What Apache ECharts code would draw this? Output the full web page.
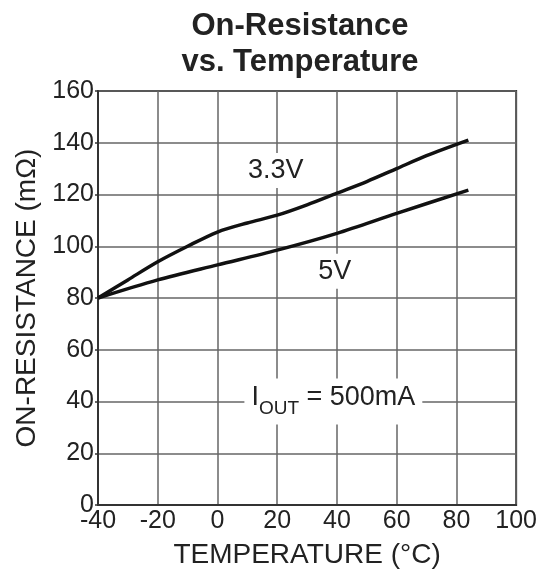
<!DOCTYPE html>
<html>
<head>
<meta charset="utf-8">
<script src="https://cdn.jsdelivr.net/npm/echarts@6/dist/echarts.min.js"></script>
<style>
  html, body { margin: 0; padding: 0; background: #fff; }
  #chart { width: 540px; height: 577px; }
</style>
</head>
<body>
<div id="chart"></div>
<script>
// temperature (°C) and on-resistance (mΩ)
var temp33 = [-40, -30, -20, -10, 0, 10, 20, 30, 40, 50, 60, 70, 84];
var ron33 = [80, 87, 94, 100, 105.5, 109, 112, 116, 120.5, 125, 130, 135, 141];
var temp5 = [-40, -20, 0, 20, 40, 60, 84];
var ron5 = [80, 87, 92.8, 98.5, 105, 112.7, 121.7];

var xTicks = [-40, -20, 0, 20, 40, 60, 80, 100];
var yTicks = [0, 20, 40, 60, 80, 100, 120, 140, 160];

var font = '"Liberation Sans", Arial, sans-serif';
var ink = '#222';

function pairs(xs, ys) {
    return xs.map(function (x, i) { return [x, ys[i]]; });
}

var myChart = echarts.init(document.getElementById('chart'));
var option = {
    animation: false,
    title: {
        text: 'On-Resistance\nvs. Temperature',
        left: 295,
        top: 3,
        textAlign: 'center',
        textStyle: {
            fontFamily: font,
            fontSize: 31,
            fontWeight: 'bold',
            color: ink,
            lineHeight: 36,
        },
    },
    grid: {
        show: true,
        left: 98,
        right: 23,
        top: 91,
        bottom: 72,
        borderColor: '#333',
        borderWidth: 2,
        backgroundColor: 'transparent',
    },
    xAxis: {
        type: 'value',
        min: xTicks[0],
        max: xTicks[xTicks.length - 1],
        interval: 20,
        name: 'TEMPERATURE (°C)',
        nameLocation: 'middle',
        nameGap: 36,
        nameTextStyle: { fontFamily: font, fontSize: 28, color: ink },
        axisLine: { show: true, onZero: false, lineStyle: { color: '#333', width: 2 } },
        axisTick: { show: false },
        splitLine: { show: true, lineStyle: { color: '#666', width: 1.5 } },
        axisLabel: { fontFamily: font, fontSize: 25, color: ink, margin: 4 },
    },
    yAxis: {
        type: 'value',
        min: yTicks[0],
        max: yTicks[yTicks.length - 1],
        interval: 20,
        name: 'ON-RESISTANCE (mΩ)',
        nameLocation: 'middle',
        nameGap: 53,
        nameRotate: 90,
        nameTextStyle: { fontFamily: font, fontSize: 28, color: ink },
        axisLine: { show: true, onZero: false, lineStyle: { color: '#333', width: 2 } },
        axisTick: { show: true, length: 3, lineStyle: { color: '#333', width: 1.5 } },
        splitLine: { show: true, lineStyle: { color: '#666', width: 1.5 } },
        axisLabel: { fontFamily: font, fontSize: 25, color: ink, margin: 4 },
    },
    series: [
        {
            name: '3.3V',
            type: 'line',
            smooth: 0.3,
            symbol: 'none',
            lineStyle: { color: '#111', width: 3.5 },
            data: pairs(temp33, ron33),
            z: 3,
        },
        {
            name: '5V',
            type: 'line',
            smooth: 0.3,
            symbol: 'none',
            lineStyle: { color: '#111', width: 3.5 },
            data: pairs(temp5, ron5),
            z: 3,
        },
        {
            type: 'scatter',
            symbolSize: 0,
            z: 4,
            itemStyle: { opacity: 1 },
            label: {
                show: true,
                position: 'inside',
                fontFamily: font,
                fontSize: 27,
                color: ink,
                backgroundColor: '#fff',
                padding: [4, 3],
                formatter: function (p) { return p.data.text; },
            },
            data: [
                { value: [19.5, 129.3], text: '3.3V' },
                { value: [39.3, 90.3], text: '5V' },
                {
                    value: [38.8, 40],
                    text: '{a|I}{b|OUT}{a| = 500mA}',
                    label: {
                        padding: [6, 7, 6, 7],
                        rich: {
                            a: { fontFamily: font, fontSize: 27, color: ink, lineHeight: 34, verticalAlign: 'top' },
                            b: { fontFamily: font, fontSize: 19, color: ink, lineHeight: 34, verticalAlign: 'bottom', padding: [13, 0, 0, 0] },
                        },
                    },
                },
            ],
        },
    ],
};

myChart.setOption(option);
</script>
</body>
</html>
